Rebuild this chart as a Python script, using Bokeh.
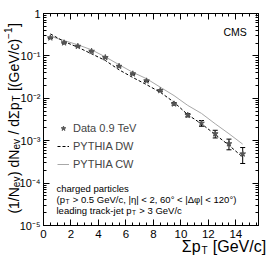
from bokeh.plotting import figure
from bokeh.models import (Range1d, LogAxis, LinearAxis, SingleIntervalTicker, LogTicker,
                          CustomJSTickFormatter, Whisker, TeeHead, ColumnDataSource, Label,
                          Legend, LegendItem)
from bokeh.embed import file_html
from bokeh.resources import INLINE

# ---------------- data ----------------
sum_pt = [0.5, 1.5, 2.5, 3.5, 4.5, 5.5, 6.5, 7.5, 8.5, 9.5, 10.5, 11.5, 12.5, 13.5, 14.5]
data_val = [0.267, 0.204, 0.169, 0.129, 0.0917, 0.0571, 0.0378, 0.0258, 0.0153, 0.0074,
            0.0040, 0.00259, 0.00146, 0.00085, 0.00049]
data_err = [0.008, 0.006, 0.005, 0.004, 0.003, 0.002, 0.0015, 0.001, 0.0007, 0.0005,
            0.00035, 0.0004, 0.0003, 0.00024, 0.0002]
dw_val = [0.33, 0.218, 0.16, 0.112, 0.078, 0.047, 0.031, 0.021, 0.0139, 0.0081,
          0.0041, 0.0025, 0.0014, 0.00078, 0.00041]
cw_val = [0.29, 0.23, 0.183, 0.139, 0.095, 0.062, 0.041, 0.029, 0.0183, 0.0116,
          0.0068, 0.0044, 0.0025, 0.00146, 0.00083]
x_lo, x_hi = 0.0, 15.65
y_lo, y_hi = 1e-5, 1.0

FONT = "Liberation Sans"

# ---------------- layout (pixels) ----------------
W, H = 267, 257
FL, FR, FT, FB = 43, 258, 13, 225          # plot box edges on the canvas
kx = (x_hi - x_lo) / (FR - FL)              # data units per px
ky = 5.0 / (FB - FT)                        # decades per px

p = figure(width=W, height=H,
           x_range=Range1d(x_lo - FL * kx, x_hi + (W - FR) * kx),
           y_range=Range1d(10 ** (-5 - (H - FB) * ky), 10 ** (0 + FT * ky)),
           y_axis_type="log", x_axis_location=None, y_axis_location=None,
           output_backend="svg", toolbar_location=None, min_border=0,
           min_border_left=0, min_border_right=0, min_border_top=0, min_border_bottom=0)
p.xgrid.visible = False
p.ygrid.visible = False
p.outline_line_color = None
p.background_fill_color = "white"
p.border_fill_color = "white"

xticker = SingleIntervalTicker(interval=2, num_minor_ticks=4)
yticker = LogTicker(desired_num_ticks=6, num_minor_ticks=10)
yfmt = CustomJSTickFormatter(code="""
const sup = {"-":"\u207b","0":"\u2070","1":"\u00b9","2":"\u00b2","3":"\u00b3","4":"\u2074",
             "5":"\u2075","6":"\u2076","7":"\u2077","8":"\u2078","9":"\u2079"};
const e = Math.round(Math.log10(tick));
if (e === 0) return "1";
return "10" + String(e).split("").map(c => sup[c]).join("");
""")
blank = CustomJSTickFormatter(code="return '';")


def style(ax, show, size="11.5px", standoff=4):
    ax.axis_line_color = "black"
    ax.major_tick_in = 6
    ax.major_tick_out = 0
    ax.minor_tick_in = 3
    ax.minor_tick_out = 0
    ax.major_tick_line_color = "black"
    ax.minor_tick_line_color = "black"
    ax.major_label_text_font = FONT
    if show:
        ax.major_label_text_color = "black"
        ax.major_label_text_font_size = size
        ax.major_label_standoff = standoff
    else:
        ax.formatter = blank
        ax.major_label_text_color = None
        ax.major_label_text_font_size = "4px"
        ax.major_label_standoff = 0


bottom = LinearAxis(ticker=xticker, fixed_location=y_lo, bounds=(x_lo, x_hi))
style(bottom, True)
p.add_layout(bottom, "below")
top = LinearAxis(ticker=xticker, fixed_location=y_hi, bounds=(x_lo, x_hi))
style(top, False)
p.add_layout(top, "above")
left = LogAxis(ticker=yticker, formatter=yfmt, fixed_location=x_lo, bounds=(y_lo, y_hi))
style(left, True, size="11px", standoff=3)
p.add_layout(left, "left")
right = LogAxis(ticker=yticker, fixed_location=x_hi, bounds=(y_lo, y_hi))
style(right, False)
p.add_layout(right, "right")

# ---------------- glyphs ----------------
src = ColumnDataSource(dict(x=sum_pt, y=data_val,
                            lo=[v - e for v, e in zip(data_val, data_err)],
                            hi=[v + e for v, e in zip(data_val, data_err)]))
r_cw = p.line(sum_pt, cw_val, line_color="#a8a8a8", line_width=1)
r_dw = p.line(sum_pt, dw_val, line_color="black", line_width=1, line_dash="3 2")
wh = Whisker(source=src, base="x", lower="lo", upper="hi", line_color="black", line_width=1,
             upper_head=TeeHead(size=5, line_color="black", line_width=1),
             lower_head=TeeHead(size=5, line_color="black", line_width=1))
p.add_layout(wh)
r_data = p.scatter("x", "y", source=src, marker="star", size=6, fill_color="#555555",
                   line_color="#555555")

legend = Legend(items=[LegendItem(label="Data 0.9 TeV", renderers=[r_data]),
                       LegendItem(label="PYTHIA DW", renderers=[r_dw]),
                       LegendItem(label="PYTHIA CW", renderers=[r_cw])],
                location=(57, H - 170), padding=0, margin=0, spacing=6,
                glyph_width=12, glyph_height=12, label_height=12, label_standoff=4,
                label_text_font=FONT, label_text_font_size="11px",
                background_fill_alpha=0, border_line_alpha=0)
p.add_layout(legend)

# ---------------- rich text helpers ----------------
WID = {' ': 278, '(': 333, ')': 333, '/': 278, 'N': 722, 'e': 556, 'v': 500, 'd': 556,
       'Σ': 680, 'p': 556, 'T': 611, '[': 278, ']': 278, 'G': 778, 'V': 667, 'c': 500,
       '−': 584, '>': 584, '<': 584, '.': 278, ',': 278, '|': 260, 'η': 556, '°': 400,
       'Δ': 668, 'φ': 650, 'l': 222, 'a': 556, 'i': 222, 'n': 556, 'g': 556, 't': 278,
       'r': 333, 'k': 500, '-': 333, 'j': 222, 'h': 556, 's': 500, 'C': 722, 'M': 833,
       'S': 667}


def tw(s, size):
    return sum(WID.get(ch, 556) for ch in s) * size / 1000.0


def rich(pieces, X, Y, angle=0.0):
    """X, Y: canvas pixels of the baseline start (from top-left)."""
    pos = 0.0
    for text, size, shift in pieces:
        lead = len(text) - len(text.lstrip(" "))
        if lead:  # SVG drops leading blanks: advance by hand
            pos += tw(" " * lead, size)
            text = text.lstrip(" ")
        if angle == 0.0:
            lx, ly = X + pos, (H - Y) + shift
        else:
            lx, ly = X - shift, (H - Y) + pos
        p.add_layout(Label(x=lx, y=ly, x_units="screen", y_units="screen", text=text,
                           angle=angle, text_font=FONT, text_font_size=f"{size}px",
                           text_align="left", text_baseline="alphabetic",
                           text_color="black"))
        pos += tw(text, size) + (0.6 if size < 12 else 0.0)


# y-axis title (reads upwards)
ypieces = [("(1/N", 14, 0), ("ev", 10, -3), (") dN", 14, 0), ("ev", 10, -3),
           (" / dΣp", 14, 0), ("T", 10, -3), (" [(GeV/c)", 14, 0), ("−1", 10, 6),
           ("]", 14, 0)]
ylen = sum(tw(t, s) for t, s, _ in ypieces)
rich(ypieces, 13, 119 + ylen / 2, angle=1.5707963)

# x-axis title
xpieces = [("Σp", 16, 0), ("T", 10, -3.5), (" [GeV/c]", 16, 0)]
xlen = sum(tw(t, s) for t, s, _ in xpieces)
rich(xpieces, 265 - xlen, 246)

# CMS
rich([("CMS", 10.5, 0)], 223, 31)

# annotation
rich([("charged particles", 9.5, 0)], 56, 187.5)
rich([("(p", 9.5, 0), ("T", 6.5, -2.5),
      (" > 0.5 GeV/c, |η| < 2, 60° < |Δφ| < 120°)", 9.5, 0)], 56, 198.5)
rich([("leading track-jet p", 9.5, 0), ("T", 6.5, -2.5), (" > 3 GeV/c", 9.5, 0)], 56, 209.5)

open("out.html", "w").write(file_html(p, INLINE))
